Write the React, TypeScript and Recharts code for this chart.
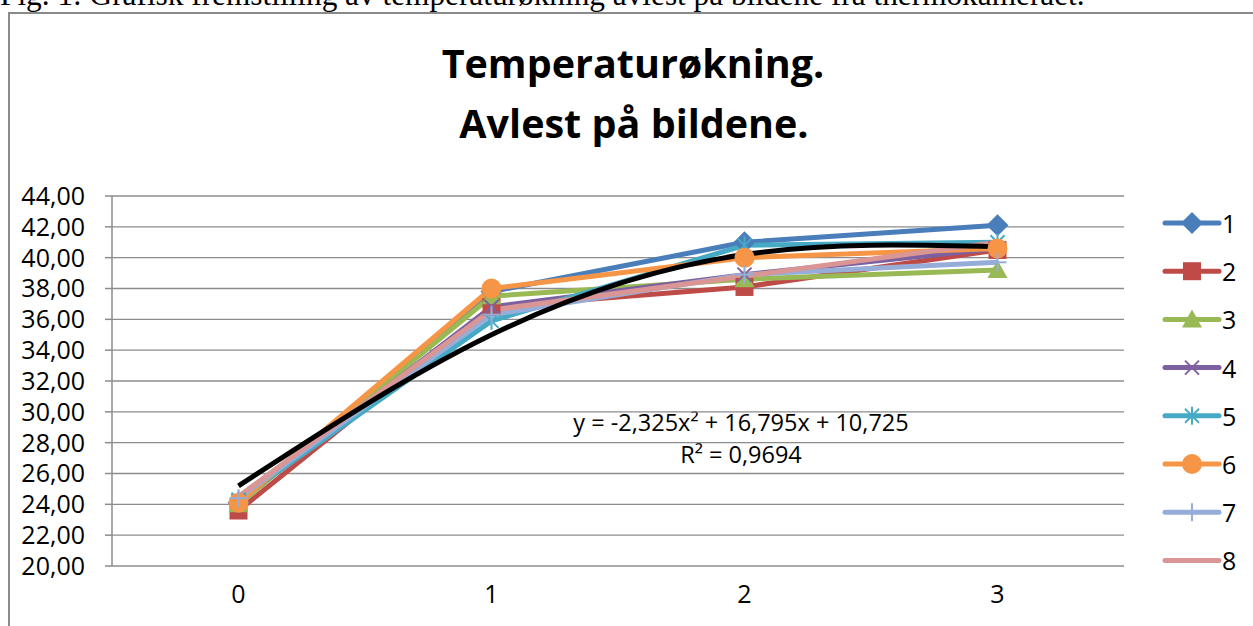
import { CartesianGrid, Line, LineChart, XAxis, YAxis } from "recharts";

const categories = [0, 1, 2, 3];
const seriesNames = ["1", "2", "3", "4", "5", "6", "7", "8"];
const series1 = [24.1, 37.8, 41.0, 42.1];
const series2 = [23.6, 36.8, 38.1, 40.5];
const series3 = [24.0, 37.5, 38.6, 39.2];
const series4 = [24.2, 36.8, 38.9, 40.6];
const series5 = [24.3, 35.9, 40.8, 41.0];
const series6 = [24.1, 38.0, 40.0, 40.6];
const series7 = [24.4, 36.3, 38.9, 39.7];
const series8 = [24.5, 36.6, 38.8, 41.0];
const trendValues = [25.2, 35.0, 40.2, 40.7];
const yTicks = [20, 22, 24, 26, 28, 30, 32, 34, 36, 38, 40, 42, 44];

const allSeries = [series1, series2, series3, series4, series5, series6, series7, series8];

const seriesColors = ["#4a7ebb", "#be4b48", "#98b954", "#7d60a0", "#46aac5", "#f69546", "#95add8", "#d99694"];
const seriesMarkers = ["diamond", "square", "triangle", "x", "star", "circle", "plus", "none"];

const data = categories.map((c, i) => {
  const row: Record<string, number> = { x: c, trend: trendValues[i] };
  allSeries.forEach((s, k) => {
    row[`s${k + 1}`] = s[i];
  });
  return row;
});

const gridColor = "#8c8c8c";
const font = "'Open Sans', Lato, sans-serif";
const labelSize = 25;

function formatTick(v: number) {
  return v.toFixed(2).replace(".", ",");
}

function Marker({ kind, cx, cy, color }: { kind: string; cx: number; cy: number; color: string }) {
  if (cx == null || cy == null) return <g />;
  switch (kind) {
    case "diamond":
      return <polygon points={`${cx},${cy - 11} ${cx + 11},${cy} ${cx},${cy + 11} ${cx - 11},${cy}`} fill={color} />;
    case "square":
      return <rect x={cx - 9} y={cy - 9} width={18} height={18} fill={color} />;
    case "triangle":
      return <polygon points={`${cx},${cy - 10} ${cx + 10},${cy + 8} ${cx - 10},${cy + 8}`} fill={color} />;
    case "x":
      return (
        <g stroke={color} strokeWidth={2}>
          <line x1={cx - 7} y1={cy - 7} x2={cx + 7} y2={cy + 7} />
          <line x1={cx - 7} y1={cy + 7} x2={cx + 7} y2={cy - 7} />
        </g>
      );
    case "star":
      return (
        <g stroke={color} strokeWidth={2}>
          <line x1={cx - 7} y1={cy - 7} x2={cx + 7} y2={cy + 7} />
          <line x1={cx - 7} y1={cy + 7} x2={cx + 7} y2={cy - 7} />
          <line x1={cx} y1={cy - 9} x2={cx} y2={cy + 9} />
        </g>
      );
    case "circle":
      return <circle cx={cx} cy={cy} r={10} fill={color} />;
    case "plus":
      return (
        <g stroke={color} strokeWidth={2}>
          <line x1={cx} y1={cy - 9} x2={cx} y2={cy + 9} />
          <line x1={cx - 9} y1={cy} x2={cx + 9} y2={cy} />
        </g>
      );
    default:
      return <g />;
  }
}

function Overlay() {
  return (
    <svg width={1253} height={626} style={{ position: "absolute", left: 0, top: 0 }}>
      <text x={0} y={5} fontFamily="'Liberation Serif', serif" fontSize={31.3} fill="#000">
        Fig. 1: Grafisk fremstilling av temperaturøkning avlest på bildene fra thermokameraet.
      </text>
      <rect x={9} y={13} width={1300} height={700} fill="#fff" stroke="#8a8a8a" strokeWidth={2} />
      <text x={633} y={78} textAnchor="middle" fontFamily={font} fontWeight="bold" fontSize={39.5} fill="#000">
        Temperaturøkning.
      </text>
      <text x={634} y={138} textAnchor="middle" fontFamily={font} fontWeight="bold" fontSize={39.5} fill="#000">
        Avlest på bildene.
      </text>
      <text x={741} y={422} textAnchor="middle" dominantBaseline="central" fontFamily={font} fontSize={23.5} fill="#000">
        y = -2,325x² + 16,795x + 10,725
      </text>
      <text x={741} y={454} textAnchor="middle" dominantBaseline="central" fontFamily={font} fontSize={23.5} fill="#000">
        R² = 0,9694
      </text>
      {seriesNames.map((name, i) => {
        const y = 223 + i * 48.2;
        return (
          <g key={name}>
            <line x1={1165} y1={y} x2={1219} y2={y} stroke={seriesColors[i]} strokeWidth={5} strokeLinecap="round" />
            <Marker kind={seriesMarkers[i]} cx={1192} cy={y} color={seriesColors[i]} />
            <text x={1222} y={y} dominantBaseline="central" fontFamily={font} fontSize={labelSize} fill="#000">
              {name}
            </text>
          </g>
        );
      })}
    </svg>
  );
}

export default function App() {
  return (
    <div style={{ position: "absolute", left: 0, top: 0, width: 1253, height: 626, overflow: "hidden", background: "#fff" }}>
      <Overlay />
      <div style={{ position: "absolute", left: 0, top: 0 }}>
        <LineChart width={1253} height={626} data={data} margin={{ top: 196, right: 129, bottom: 10, left: 12 }}>
          <CartesianGrid xAxisId="cat" vertical={false} stroke={gridColor} strokeWidth={1.3} />
          <XAxis
            xAxisId="frame"
            type="number"
            dataKey="x"
            domain={[-0.5, 3.5]}
            allowDataOverflow
            ticks={[-0.5, 0.5, 1.5, 2.5, 3.5]}
            tick={() => <g />}
            tickSize={8}
            height={0}
            axisLine={{ stroke: gridColor, strokeWidth: 1.5 }}
            tickLine={{ stroke: gridColor, strokeWidth: 1.5 }}
          />
          <XAxis
            xAxisId="cat"
            type="number"
            dataKey="x"
            domain={[-0.5, 3.5]}
            allowDataOverflow
            ticks={categories}
            axisLine={false}
            tickLine={false}
            tickSize={0}
            tickMargin={19}
            height={50}
            tick={{ fill: "#000", fontSize: labelSize, fontFamily: font }}
          />
          <YAxis
            domain={[20, 44]}
            ticks={yTicks}
            interval={0}
            tickFormatter={formatTick}
            width={100}
            tickSize={7}
            tickMargin={20}
            axisLine={{ stroke: gridColor, strokeWidth: 1.5 }}
            tickLine={{ stroke: gridColor, strokeWidth: 1.5 }}
            tick={{ fill: "#000", fontSize: labelSize, fontFamily: font }}
          />
          {seriesNames.map((name, i) => (
            <Line
              key={name}
              xAxisId="cat"
              type="linear"
              dataKey={`s${i + 1}`}
              name={name}
              stroke={seriesColors[i]}
              strokeWidth={5}
              strokeLinejoin="round"
              isAnimationActive={false}
              dot={(p: any) => <Marker key={`${name}-${p.index}`} kind={seriesMarkers[i]} cx={p.cx} cy={p.cy} color={seriesColors[i]} />}
              activeDot={false}
            />
          ))}
          <Line
            xAxisId="cat"
            type="natural"
            dataKey="trend"
            stroke="#000"
            strokeWidth={5}
            dot={false}
            activeDot={false}
            isAnimationActive={false}
          />
        </LineChart>
      </div>
    </div>
  );
}
